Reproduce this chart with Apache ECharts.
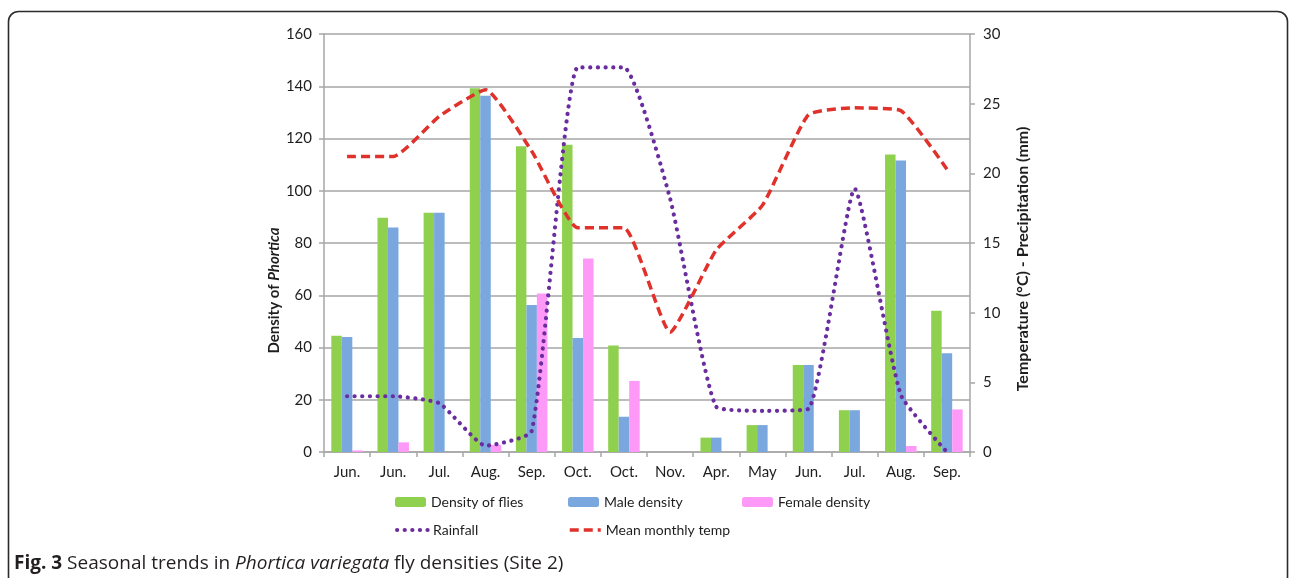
<!DOCTYPE html>
<html>
<head>
<meta charset="utf-8">
<script src="https://cdn.jsdelivr.net/npm/echarts@6/dist/echarts.min.js"></script>
<style>
    html, body { margin: 0; padding: 0; background: #fff; }
    #chart { width: 1292px; height: 578px; }
</style>
</head>
<body>
<div id="chart"></div>
<script>
// data
const months = ['Jun.', 'Jun.', 'Jul.', 'Aug.', 'Sep.', 'Oct.', 'Oct.', 'Nov.', 'Apr.', 'May', 'Jun.', 'Jul.', 'Aug.', 'Sep.'];
const fliesDensity = [44.5, 89.7, 91.6, 139.2, 117, 117.6, 40.8, 0, 5.5, 10.3, 33.3, 16, 113.9, 54.1];
const maleDensity = [44, 85.9, 91.6, 136.4, 56.3, 43.6, 13.5, 0, 5.5, 10.3, 33.3, 16, 111.6, 37.8];
const femaleDensity = [0.6, 3.7, 0, 2.7, 60.7, 74.1, 27.2, 0, 0, 0, 0, 0, 2.3, 16.3];
const rainfall = [4.0, 4.0, 3.5, 0.45, 1.5, 27.6, 27.6, 18.2, 3.25, 2.95, 3.1, 18.9, 4.1, 0];
const meanTemp = [21.2, 21.2, 24.1, 26.0, 21.6, 16.1, 16.1, 8.6, 14.5, 17.7, 24.2, 24.7, 24.5, 20.3];

const font = 'Lato';
const textColor = '#1e1e1e';
const axisGray = '#a6a6a6';

const legendText = { fontFamily: font, fontSize: 14, color: textColor };

// one legend per item so each can sit where the original has it
const legendAt = (name, left, top, isLine) => ({
    data: [name],
    left: left,
    top: top,
    itemWidth: 31,
    itemHeight: 10,
    itemGap: 0,
    padding: 0,
    selectedMode: false,
    textStyle: legendText,
    // line series draw a circle in the middle of the icon, hide it
    itemStyle: isLine ? { opacity: 0 } : {},
    lineStyle: isLine ? { width: 'inherit' } : {},
});

const option = {
    animation: false,
    backgroundColor: '#fff',
    title: {
        left: 14,
        top: 554,
        padding: 0,
        text: '{b|Fig. 3} Seasonal trends in {i|Phortica variegata} fly densities (Site 2)',
        textStyle: {
            fontFamily: 'Open Sans',
            fontSize: 19,
            fontWeight: 'normal',
            color: '#231f20',
            rich: {
                b: { fontFamily: 'Open Sans', fontSize: 19, fontWeight: 'bold', color: '#231f20' },
                i: { fontFamily: 'Open Sans', fontSize: 19, fontStyle: 'italic', color: '#231f20' },
            },
        },
    },
    graphic: [
        {
            type: 'rect',
            shape: { x: 8.5, y: 11.5, width: 1279, height: 620, r: 10 },
            style: { fill: 'none', stroke: '#2b2b2b', lineWidth: 1.6 },
            silent: true,
        },
    ],
    legend: [
        legendAt('Density of flies', 395, 495),
        legendAt('Male density', 568, 495),
        legendAt('Female density', 742, 495),
        legendAt('Rainfall', 395, 523, true),
        legendAt('Mean monthly temp', 568, 523, true),
    ],
    grid: {
        left: 324,
        right: 322,
        top: 34,
        bottom: 126,
    },
    xAxis: {
        type: 'category',
        data: months,
        axisLine: { lineStyle: { color: axisGray, width: 1.5 } },
        axisTick: { show: true, length: 5, lineStyle: { color: axisGray, width: 1.5 } },
        axisLabel: { fontFamily: font, fontSize: 15, color: textColor, margin: 13 },
    },
    yAxis: [
        {
            type: 'value',
            min: 0,
            max: 160,
            interval: 20,
            name: '{b|Density of }{bi|Phortica}',
            nameLocation: 'middle',
            nameRotate: 90,
            nameGap: 33,
            nameTextStyle: {
                padding: [0, 95, 0, 0],
                rich: {
                    b: { fontFamily: font, fontSize: 15, fontWeight: 'bold', color: textColor },
                    bi: { fontFamily: font, fontSize: 15, fontWeight: 'bold', fontStyle: 'italic', color: textColor },
                },
            },
            axisLine: { show: true, lineStyle: { color: axisGray, width: 1.5 } },
            axisTick: { show: true, length: 5, lineStyle: { color: axisGray, width: 1.5 } },
            axisLabel: { fontFamily: font, fontSize: 15, color: textColor, margin: 12 },
            splitLine: { lineStyle: { color: axisGray, width: 1.5 } },
        },
        {
            type: 'value',
            min: 0,
            max: 30,
            interval: 5,
            position: 'right',
            name: 'Temperature (°C) - Precipitation (mm)',
            nameLocation: 'middle',
            nameRotate: 90,
            nameGap: 45,
            nameTextStyle: {
                fontFamily: font,
                fontSize: 16,
                fontWeight: 'bold',
                color: textColor,
                padding: [0, 32, 0, 0],
            },
            axisLine: { show: true, lineStyle: { color: axisGray, width: 1.5 } },
            axisTick: { show: true, length: 5, lineStyle: { color: axisGray, width: 1.5 } },
            axisLabel: { fontFamily: font, fontSize: 15, color: textColor, margin: 13 },
            splitLine: { show: false },
        },
    ],
    series: [
        {
            name: 'Density of flies',
            type: 'bar',
            data: fliesDensity,
            barWidth: 10.5,
            barGap: '0%',
            itemStyle: { color: '#8fd14f' },
        },
        {
            name: 'Male density',
            type: 'bar',
            data: maleDensity,
            barWidth: 10.5,
            barGap: '0%',
            itemStyle: { color: '#7aa7de' },
        },
        {
            name: 'Female density',
            type: 'bar',
            data: femaleDensity,
            barWidth: 10.5,
            barGap: '0%',
            itemStyle: { color: '#ff99f8' },
        },
        {
            name: 'Rainfall',
            type: 'line',
            yAxisIndex: 1,
            data: rainfall,
            smooth: 0.15,
            symbol: 'none',
            lineStyle: { color: '#6a2d9f', width: 4.2, type: [0.1, 7.5], cap: 'round' },
            itemStyle: { color: '#6a2d9f' },
            z: 3,
        },
        {
            name: 'Mean monthly temp',
            type: 'line',
            yAxisIndex: 1,
            data: meanTemp,
            smooth: 0.15,
            symbol: 'none',
            lineStyle: { color: '#e0312b', width: 3.5, type: [9, 5] },
            itemStyle: { color: '#e0312b' },
            z: 4,
        },
    ],
};

const myChart = echarts.init(document.getElementById('chart'));
myChart.setOption(option);
window.addEventListener('resize', () => myChart.resize());
</script>
</body>
</html>
